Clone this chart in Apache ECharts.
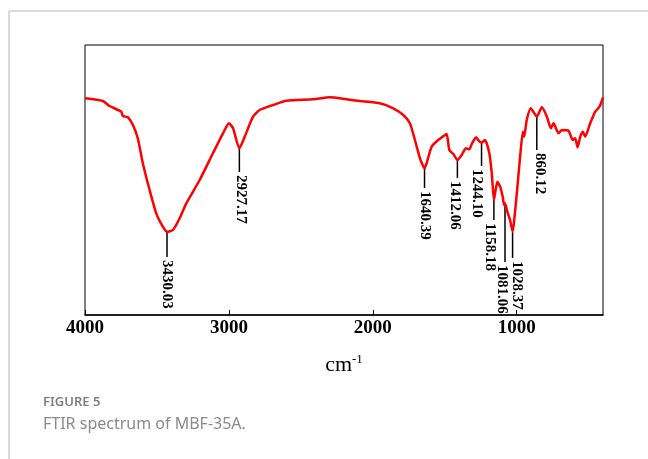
<!DOCTYPE html>
<html>
<head>
<meta charset="utf-8">
<script src="https://cdn.jsdelivr.net/npm/echarts@6/dist/echarts.min.js"></script>
<style>
  html, body { margin: 0; padding: 0; background: #fff; }
  #chart { width: 648px; height: 459px; }
</style>
</head>
<body>
<div id="chart"></div>
<script>
// wavenumber (cm-1) and relative transmittance
const wavenumbers = [4000, 3876, 3830, 3748, 3737, 3702, 3667, 3633, 3598, 3551, 3505, 3459, 3430, 3389, 3342, 3296, 3203, 3111, 3041, 2999, 2971, 2927, 2890, 2832, 2786, 2693, 2600, 2415, 2299, 2183, 2090, 1951, 1858, 1788, 1742, 1707, 1672, 1640, 1626, 1591, 1545, 1498, 1486, 1468, 1440, 1412, 1382, 1352, 1329, 1312, 1282, 1264, 1244, 1220, 1190, 1173, 1158, 1150, 1134, 1115, 1097, 1088, 1081, 1065, 1046, 1028, 1018, 999, 976, 957, 948, 930, 902, 860, 825, 790, 762, 744, 709, 685, 640, 610, 593, 577, 558, 540, 524, 489, 454, 424, 400]
const transmittance = [216.7, 214, 209, 203.3, 199, 197.7, 190, 176.7, 151.7, 125, 101.7, 88.3, 83.3, 85, 96.7, 111.7, 135, 161.7, 181.7, 191.7, 186.7, 166.7, 178.3, 198.3, 205, 210, 214.3, 215.7, 217.7, 215.7, 214, 211.7, 206.7, 200, 191.7, 175, 156.7, 146.7, 151.7, 168.3, 175, 180, 181, 165, 161, 155, 160, 166.7, 165.7, 171, 177.7, 174.3, 172.3, 175, 161.7, 141.7, 115, 121.7, 133.3, 128.3, 118.3, 110, 111.7, 103.3, 95, 83.3, 93.3, 121.7, 158.3, 183.3, 178.3, 195, 206.7, 198.3, 207.7, 198.3, 186.7, 191.7, 181.7, 185, 184.3, 175, 176.7, 167.7, 178.3, 183.3, 178.3, 191.7, 203.3, 208.3, 217.7]

// peak annotations: position, line start (at curve), line end, label
const peakPositions = [3430.03, 2927.17, 1640.39, 1412.06, 1244.10, 1158.18, 1081.06, 1028.37, 860.12]
const peakLineTop = [83, 167, 147, 155, 172, 115, 110, 83, 198]
const peakLineBottom = [58, 143, 127, 137, 149, 95, 53, 57, 165]
const peakLabels = ['3430.03', '2927.17', '1640.39', '1412.06', '1244.10', '1158.18', '1081.06', '1028.37', '860.12']

const xTicks = [1000, 2000, 3000, 4000]

// small sideways nudges of the peak labels so they don't collide (px)
const labelNudge = [0, 1.5, 0, -3, -5, -4, -3, 4, 3]

const myChart = echarts.init(document.getElementById('chart'))

const serif = '"Liberation Serif", "Times New Roman", serif'

const options = {
  animation: false,
  grid: {
    left: 85,
    right: 45,
    top: 45,
    bottom: 144,
    show: true,
    borderColor: '#000',
    borderWidth: 1,
  },
  xAxis: {
    type: 'value',
    min: 400,
    max: 4000,
    inverse: true,
    name: '{a|cm}{b|-1}',
    nameLocation: 'middle',
    nameGap: 38,
    nameTextStyle: {
      rich: {
        a: { fontFamily: serif, fontSize: 22, color: '#000' },
        b: { fontFamily: serif, fontSize: 13, color: '#000', padding: [0, 0, 12, 0] },
      },
    },
    splitLine: { show: false },
    axisLine: { lineStyle: { color: '#000', width: 1.5 } },
    axisTick: {
      inside: true,
      length: 5,
      customValues: xTicks,
      lineStyle: { color: '#000' },
    },
    axisLabel: {
      customValues: xTicks,
      formatter: (v) => String(v),
      fontFamily: serif,
      fontWeight: 'bold',
      fontSize: 19,
      color: '#000',
      margin: 4,
    },
  },
  yAxis: {
    type: 'value',
    min: 0,
    max: 270,
    show: false,
  },
  series: [
    {
      type: 'line',
      data: wavenumbers.map((w, i) => [w, transmittance[i]]),
      symbol: 'none',
      smooth: 0.2,
      lineStyle: { color: '#ff0000', width: 2.5 },
      z: 3,
    },
    {
      type: 'custom',
      data: peakPositions.map((p, i) => [p, peakLineTop[i], peakLineBottom[i]]),
      encode: { x: 0, y: 1 },
      z: 2,
      renderItem: (params, api) => {
        const top = api.coord([api.value(0), api.value(1)])
        const bottom = api.coord([api.value(0), api.value(2)])
        return {
          type: 'group',
          children: [
            {
              type: 'line',
              shape: { x1: top[0], y1: top[1], x2: bottom[0], y2: bottom[1] },
              style: { stroke: '#000', lineWidth: 1.5 },
            },
            {
              type: 'text',
              x: bottom[0] + labelNudge[params.dataIndex],
              y: bottom[1] + 3,
              rotation: -Math.PI / 2,
              style: {
                text: peakLabels[params.dataIndex],
                fontFamily: serif,
                fontWeight: 'bold',
                fontSize: 15,
                fill: '#000',
                align: 'left',
                verticalAlign: 'middle',
              },
            },
          ],
        }
      },
    },
  ],
  graphic: [
    {
      type: 'polyline',
      shape: { points: [[9, 459], [9, 11], [648, 11]] },
      style: { stroke: '#b4b4b4', lineWidth: 1, fill: null },
    },
    {
      type: 'text',
      left: 43,
      top: 396,
      style: {
        text: 'FIGURE 5',
        fontFamily: '"Noto Sans", sans-serif',
        fontSize: 13,
        fontWeight: 600,
        fill: '#7f7f7f',
      },
    },
    {
      type: 'text',
      left: 43,
      top: 416,
      style: {
        text: 'FTIR spectrum of MBF-35A.',
        fontFamily: '"Noto Sans", sans-serif',
        fontSize: 16,
        fill: '#8a8a8a',
      },
    },
  ],
}

myChart.setOption(options)
</script>
</body>
</html>
